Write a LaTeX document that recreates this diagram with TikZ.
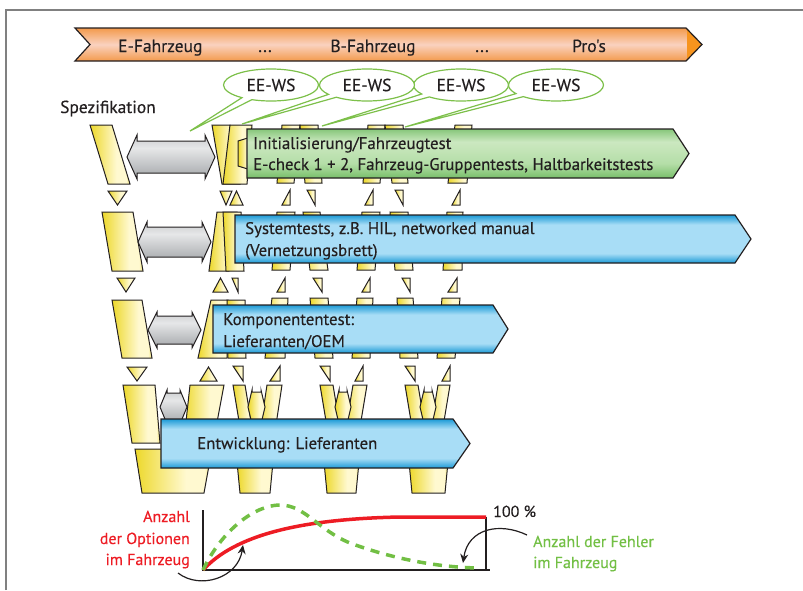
\documentclass[tikz,border=0pt]{standalone}
\usepackage{fontspec}
\setmainfont{PT Sans}[FakeBold=0.35]
\newfontfamily\plainfont{PT Sans}[FakeBold=0.35]
\usetikzlibrary{shapes.callouts,shapes.geometric,arrows.meta}
\definecolor{ink}{HTML}{231F20}
\definecolor{frame}{HTML}{808080}
\definecolor{yA}{HTML}{EDD82A}
\definecolor{yB}{HTML}{FFF9D0}
\definecolor{yC}{HTML}{F4E678}
\definecolor{gA}{HTML}{A3A6A9}
\definecolor{gB}{HTML}{E6E7E8}
\definecolor{gC}{HTML}{CACCCE}
\definecolor{bD}{HTML}{1C9AD6}
\definecolor{bL}{HTML}{A8DDF6}
\definecolor{grD}{HTML}{78BF6A}
\definecolor{grM}{HTML}{B5DEA8}
\definecolor{grL}{HTML}{CBE8C0}
\definecolor{grT}{HTML}{86C67A}
\definecolor{oD}{HTML}{F39A4C}
\definecolor{oL}{HTML}{FAD2C0}
\definecolor{oT}{HTML}{F7941E}
\definecolor{eegreen}{HTML}{7DC04A}
\definecolor{optred}{HTML}{ED1C24}
\definecolor{errgreen}{HTML}{72BF44}
\pgfdeclarehorizontalshading{yel}{100bp}{color(0bp)=(yA); color(25bp)=(yA); color(58bp)=(yB); color(70bp)=(yB); color(75bp)=(yC); color(100bp)=(yC)}
\pgfdeclareverticalshading{grayax}{100bp}{color(0bp)=(gA); color(25bp)=(gA); color(60bp)=(gB); color(75bp)=(gC); color(100bp)=(gC)}
\pgfdeclareverticalshading{blueax}{100bp}{color(0bp)=(bD); color(25bp)=(bD); color(35bp)=(bL); color(65bp)=(bL); color(75bp)=(bD); color(100bp)=(bD)}
\pgfdeclareverticalshading{greenax}{100bp}{color(0bp)=(grD); color(25bp)=(grD); color(40bp)=(grM); color(62bp)=(grL); color(75bp)=(grT); color(100bp)=(grT)}
\pgfdeclareverticalshading{orangeax}{100bp}{color(0bp)=(oD); color(25bp)=(oD); color(50bp)=(oL); color(75bp)=(oD); color(100bp)=(oD)}
\tikzset{
  ybox/.style={draw=ink, line width=1pt, line join=miter, shade, shading=yel},
  garr/.style={draw=ink, line width=1pt, shade, shading=grayax},
  yarr/.style={draw=ink, line width=1pt, shade, shading=yel},
  gban/.style={draw=ink, line width=1.2pt, shade, shading=greenax},
  bban/.style={draw=ink, line width=1.2pt, shade, shading=blueax},
  btext/.style={anchor=base west, inner sep=0pt, text=ink, font=\fontsize{16.8}{20}\selectfont},
  toptext/.style={anchor=base, inner sep=0pt, text=ink, font=\fontsize{17.5}{20}\selectfont},
  eews/.style={ellipse callout, draw=eegreen, fill=white, line width=1.2pt,
     minimum width=95pt, minimum height=32pt, inner sep=0pt, callout pointer arc=14,
     text=ink, font=\fontsize{17.5}{20}\selectfont},
  gtext/.style={inner sep=0pt, font=\fontsize{16}{19}\selectfont},
  carrow/.style={draw=ink, line width=1.2pt, -{Stealth[length=9pt,width=8pt]}}
}
% double-headed arrow: style, xL, xR, yc, head half height, body half height, head length
\newcommand\dblarr[7]{\path[#1] (#2,#4) -- ({#2+#7},{#4-#5}) -- ({#2+#7},{#4-#6}) -- ({#3-#7},{#4-#6}) -- ({#3-#7},{#4-#5}) -- (#3,#4) -- ({#3-#7},{#4+#5}) -- ({#3-#7},{#4+#6}) -- ({#2+#7},{#4+#6}) -- ({#2+#7},{#4+#5}) -- cycle;}
% trapezoid: ytop ybot topx1 topx2 botx1 botx2
\newcommand\trap[6]{\path[ybox] (#3,#1) -- (#4,#1) -- (#6,#2) -- (#5,#2) -- cycle;}
% triangles: x1 x2 ytop ybot
\newcommand\tUR[4]{\path[ybox] (#1,#4) -- (#2,#4) -- (#2,#3) -- cycle;}
\newcommand\tDR[4]{\path[ybox] (#1,#3) -- (#2,#3) -- (#2,#4) -- cycle;}
\newcommand\tUp[4]{\path[ybox] (#1,#4) -- (#2,#4) -- ({(#1+#2)/2},#3) -- cycle;}
\newcommand\tDn[4]{\path[ybox] (#1,#3) -- (#2,#3) -- ({(#1+#2)/2},#4) -- cycle;}
% banner: style xL xBodyEnd ytop ybot xTip
\newcommand\bann[6]{\path[#1] (#2,#4) -- (#3,#4) -- (#6,{(#4+#5)/2}) -- (#3,#5) -- (#2,#5) -- cycle;}

\begin{document}
\begin{tikzpicture}[x=1pt,y=-1pt]
\useasboundingbox (0,0) rectangle (803,590);
% frame
\draw[frame, line width=1.5pt] (6,590) -- (6,10) -- (803,10);

% top banner
\path[shade, shading=orangeax] (75,28) -- (686,28) -- (702,44.5) -- (686,61) -- (75,61) -- (90,44.5) -- cycle;
\fill[oT] (687,28.5) -- (701.5,44.5) -- (687,60.5) -- cycle;
\draw[ink, line width=1.2pt, line join=miter] (75,28) -- (686,28) -- (702,44.5) -- (686,61) -- (75,61) -- (90,44.5) -- cycle;
\node[toptext, anchor=base west] (tE) at (118,52) {E-Fahrzeug};
\node[toptext] (td1) at (265,52) {...};
\node[toptext] (tB) at (373,52) {B-Fahrzeug};
\node[toptext] (td2) at (482,52) {...};
\node[toptext] (tP) at (589,52) {\plainfont Pro's};

\node[anchor=base west, inner sep=0pt, text=ink, font=\fontsize{17.4}{20}\selectfont] (spez) at (60,113) {Spezifikation};

% ---- test columns behind banners
\trap{125}{183}{282}{300}{277}{294}
\trap{125}{183}{300}{318}{305}{322}
\trap{125}{183}{368}{385}{363}{380}
\trap{125}{183}{385}{403}{392}{408}
\trap{125}{183}{455}{472}{448}{467}
\trap{212}{270}{277}{295}{272}{290}
\trap{212}{270}{303}{320}{310}{328}
\trap{212}{270}{362}{380}{357}{375}
\trap{212}{270}{390}{408}{395}{413}
\trap{212}{270}{447}{463}{443}{462}
\trap{298}{358}{272}{288}{265}{285}
\trap{298}{358}{310}{328}{315}{333}
\trap{298}{358}{357}{373}{352}{370}
\trap{298}{358}{397}{413}{400}{418}
\trap{298}{358}{442}{460}{437}{455}
% level 4 mini V's
\trap{385}{445}{233}{245}{243}{255}
\trap{385}{445}{267}{282}{258}{273}
\dblarr{yarr}{248}{265}{407}{17}{15}{4}
\trap{462}{493}{237}{273}{240}{270}
\trap{385}{445}{320}{333}{330}{343}
\trap{385}{445}{353}{367}{343}{357}
\dblarr{yarr}{335}{351}{407}{17}{15}{4}
\trap{462}{493}{324}{359}{327}{356}
\trap{385}{445}{405}{418}{415}{428}
\trap{385}{445}{438}{450}{428}{440}
\dblarr{yarr}{420}{436}{407}{17}{15}{4}
\trap{462}{493}{409}{448}{412}{445}

% ---- main V, left (specification) column
\trap{125}{184}{90}{112}{108}{130}
\trap{212}{271}{102}{133}{112}{143}
\trap{300}{358}{112}{142}{122}{152}
\trap{385}{443}{123}{155}{132}{160}
% main V, right column
\path[ybox] (212,125) -- (230,125) -- (240,184) -- (222,184) -- cycle;
\path[ybox] (230,125) -- (252,125) -- (247,184) -- (223,184) -- cycle;
\path[ybox] (251,137) -- (238,141) -- (238,166) -- (251,170) -- cycle;
\path[ybox] (217,212) -- (237,212) -- (229,271) -- (209,271) -- cycle;
\path[ybox] (223,212) -- (241,212) -- (244,271) -- (226,271) -- cycle;
\path[ybox] (211,300) -- (228,300) -- (227,358) -- (198,358) -- cycle;
\path[ybox] (227,300) -- (245,300) -- (246,358) -- (228,358) -- cycle;
\trap{385}{449}{190}{224}{183}{212}
\trap{449}{493}{135}{212}{142}{204}

% gray double arrows
\dblarr{garr}{127}{215}{157}{22}{16}{10}
\dblarr{garr}{138}{211}{242}{20}{15}{9}
\dblarr{garr}{148}{201}{330}{18}{14}{9}
\dblarr{garr}{160}{187}{407}{17}{14}{7}

% triangles
\tDn{108}{127}{191}{205}
\tDn{117}{135}{278}{292}
\tDn{127}{147}{367}{381}
\tDn{220}{232}{191}{205}
\tUp{230}{243}{191}{205}
\tUp{213}{228}{278}{292}
\tDR{232}{238}{278}{292}
\tUp{200}{217}{367}{381}
\tDR{233}{243}{366}{381}
\tUR{282}{290}{190}{205}
\tDR{307}{315}{190}{205}
\tUR{365}{373}{190}{205}
\tDR{395}{403}{190}{205}
\tUR{452}{460}{190}{205}
\tUR{277}{285}{278}{292}
\tDR{313}{322}{278}{292}
\tUR{362}{370}{278}{292}
\tDR{402}{410}{278}{292}
\tUR{448}{457}{278}{292}
\tUR{270}{280}{366}{381}
\tDR{320}{330}{366}{381}
\tUR{355}{363}{366}{381}
\tDR{405}{415}{366}{381}
\tUR{442}{450}{366}{381}

% banners
\bann{gban}{247}{673}{129}{178}{689}
\node[btext] (g1) at (253,149) {Initialisierung/Fahrzeugtest};
\node[btext] (g2) at (253,170) {E-check 1 + 2, Fahrzeug-Gruppentests, Haltbarkeitstests};
\bann{bban}{235}{735}{215}{263}{751}
\node[btext] (s1) at (245,234) {Systemtests, z.B. HIL, networked manual};
\node[btext] (s2) at (245,256) {(Vernetzungsbrett)};
\bann{bban}{213}{493}{305}{353}{508}
\node[btext] (k1) at (223,325) {Komponententest:};
\node[btext] (k2) at (223,347) {Lieferanten/OEM};
\bann{bban}{161}{453}{419}{468}{470}
\node[btext] (en) at (197,449) {Entwicklung: Lieferanten};

% EE-WS callouts
\coordinate (p1) at (190,131);
\coordinate (p2) at (242,124);
\coordinate (p3) at (322,126);
\coordinate (p4) at (405,127);
\node[eews, callout absolute pointer=(p4)] (e4) at (556,85) {EE-WS};
\node[eews, callout absolute pointer=(p3)] (e3) at (461,85) {EE-WS};
\node[eews, callout absolute pointer=(p2)] (e2) at (367,85) {EE-WS};
\node[eews, callout absolute pointer=(p1)] (e1) at (271,85) {EE-WS};

% graph
\coordinate (o) at (203,570);
\coordinate (ytop) at (203,510);
\coordinate (xend) at (490,570);
\coordinate (rtop) at (486,517);
\coordinate (rbot) at (486,570);
\draw[ink, line width=1.2pt] (ytop) -- (o) -- (xend);
\draw[ink, line width=1.2pt] (rtop) -- (rbot);
\draw[optred, line width=3.5pt] (o) .. controls (235,535) and (300,519) .. (400,517) -- (rtop);
\draw[errgreen, line width=3.5pt, dash pattern=on 9pt off 7pt]
  (o) .. controls (222,530) and (255,505) .. (280,505)
      .. controls (305,505) and (318,530) .. (350,543)
      .. controls (385,556) and (430,567) .. (478,568);
\node[anchor=base west, inner sep=0pt, text=ink, font=\fontsize{16}{19}\selectfont] (pct) at (493,517) {100 \%};
\node[gtext, anchor=base east, text=optred] (o1) at (190,522) {Anzahl};
\node[gtext, anchor=base east, text=optred] (o2) at (190,544) {der Optionen};
\node[gtext, anchor=base east, text=optred] (o3) at (190,565) {im Fahrzeug};
\node[gtext, anchor=base west, text=errgreen] (f1) at (533,547) {Anzahl der Fehler};
\node[gtext, anchor=base west, text=errgreen] (f2) at (533,568) {im Fahrzeug};
\coordinate (a1s) at (178,573);
\coordinate (a1e) at (243,545);
\coordinate (a2s) at (527,535);
\coordinate (a2e) at (463,563);
\draw[carrow] (a1s) .. controls (200,590) and (238,578) .. (a1e);
\draw[carrow] (a2s) .. controls (500,522) and (468,528) .. (a2e);
\end{tikzpicture}
\end{document}
